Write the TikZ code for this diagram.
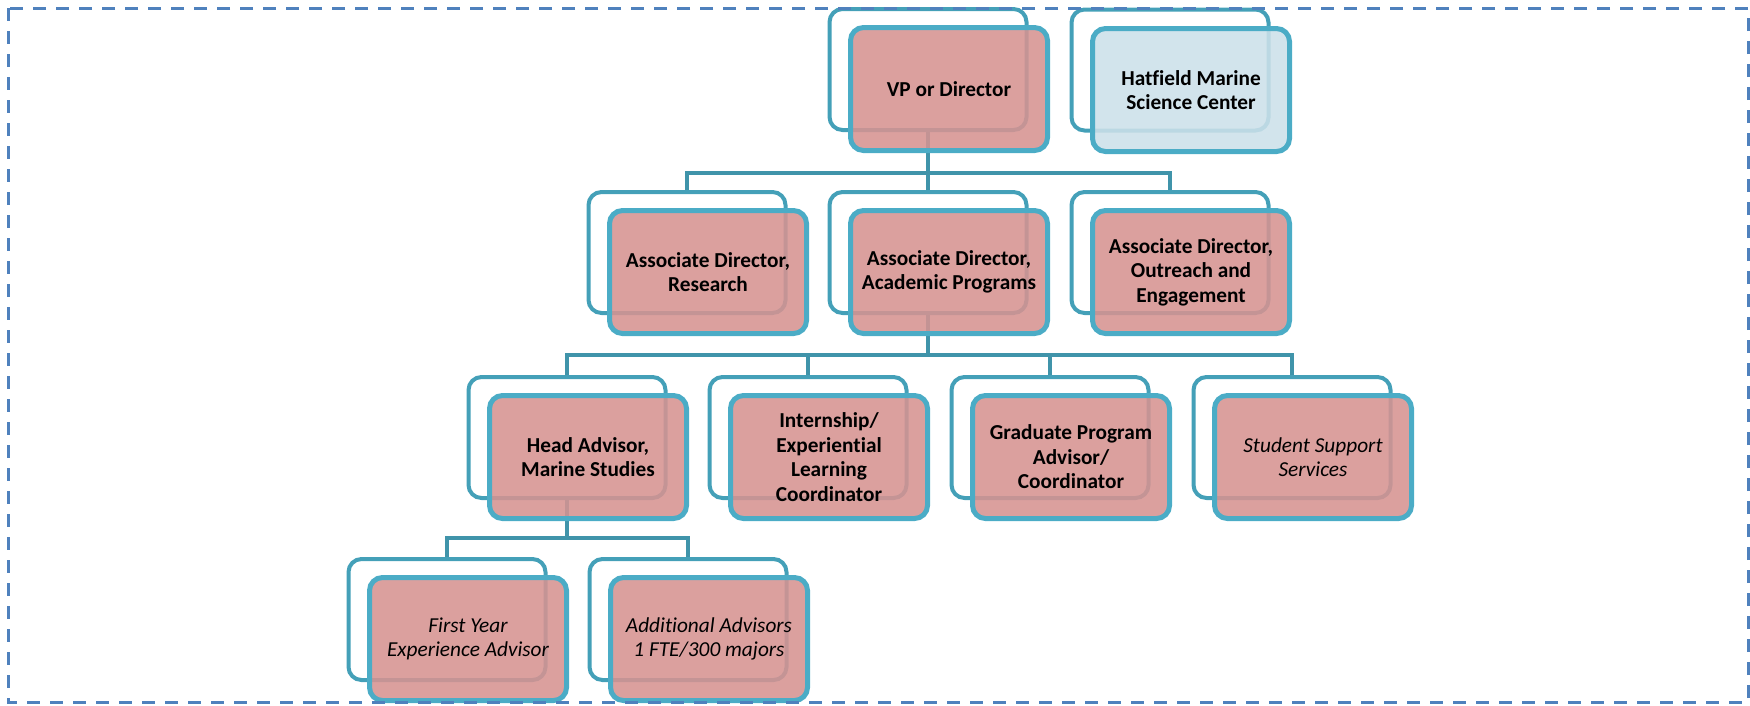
\documentclass[tikz,border=0pt]{standalone}
\usepackage{fontspec}
\setmainfont{Carlito}[Ligatures=NoCommon]
\definecolor{borderc}{RGB}{75,172,198}
\definecolor{framec}{RGB}{68,160,184}
\definecolor{connc}{RGB}{64,148,170}
\definecolor{pinkf}{RGB}{214,147,145}
\definecolor{bluef}{RGB}{204,224,233}
\definecolor{dashc}{RGB}{79,129,189}
\tikzset{
  frontbox/.style={draw=borderc, line width=5pt, rounded corners=13pt, fill=pinkf, fill opacity=0.88, text opacity=1,
    minimum width=197pt, minimum height=123pt, align=center, inner sep=2pt,
    font=\fontsize{21.3pt}{24.5pt}\selectfont\bfseries},
  bluebox/.style={frontbox, fill=bluef},
  itbox/.style={frontbox, font=\fontsize{21.3pt}{24.5pt}\selectfont\itshape},
  framebox/.style={draw=framec, line width=4pt, rounded corners=13pt, minimum width=197pt, minimum height=121pt, inner sep=0pt},
  conn/.style={draw=connc, line width=4pt},
  border/.style={draw=dashc, line width=3pt, dash pattern=on 13pt off 10pt}
}
\begin{document}
\begin{tikzpicture}[x=1pt,y=-1pt]
\useasboundingbox (0,0) rectangle (1750,705);
% frames
\node[framebox] (vpf) at (928,69.5) {};
\node[framebox] (hmf) at (1170,70) {};
\node[framebox] (resf) at (687,252.5) {};
\node[framebox] (acaf) at (928,252.5) {};
\node[framebox] (outf) at (1170,252.5) {};
\node[framebox] (headf) at (567,437.5) {};
\node[framebox] (intf) at (808,437.5) {};
\node[framebox] (gradf) at (1050,437.5) {};
\node[framebox] (sssf) at (1292,437.5) {};
\node[framebox] (fyf) at (447,619.5) {};
\node[framebox] (addf) at (688,619.5) {};
% bars
\coordinate (b2) at (0,173);
\coordinate (b3) at (0,355);
\coordinate (b4) at (0,538);
% connectors
\draw[conn] (vpf.south) -- (vpf.south |- b2);
\draw[conn] (resf.north) |- (outf.north |- b2) -- (outf.north);
\draw[conn] (acaf.north) -- (acaf.north |- b2);
\draw[conn] (acaf.south) -- (acaf.south |- b3);
\draw[conn] (headf.north) |- (sssf.north |- b3) -- (sssf.north);
\draw[conn] (intf.north) -- (intf.north |- b3);
\draw[conn] (gradf.north) -- (gradf.north |- b3);
\draw[conn] (headf.south) -- (headf.south |- b4);
\draw[conn] (fyf.north) |- (addf.north |- b4) -- (addf.north);
% front boxes
\node[frontbox] (vp) at (949,89) {VP or Director};
\node[bluebox] (hm) at (1191,90) {Hatfield Marine\\Science Center};
\node[frontbox] (res) at (708,272) {Associate Director,\\Research};
\node[frontbox] (aca) at (949,272) {Associate Director,\\Academic Programs};
\node[frontbox] (out) at (1191,272) {Associate Director,\\Outreach and\\Engagement};
\node[frontbox] (head) at (588,457) {Head Advisor,\\Marine Studies};
\node[frontbox] (int) at (829,457) {Internship/\\Experiential\\Learning\\Coordinator};
\node[frontbox] (grad) at (1071,457) {Graduate Program\\Advisor/\\Coordinator};
\node[itbox] (sss) at (1313,457) {Student Support\\Services};
\node[itbox] (fy) at (468,639) {First Year\\Experience Advisor};
\node[itbox] (add) at (709,639) {Additional Advisors\\1 FTE/300 majors};
% dashed border
\draw[border] (8,8) rectangle (1748,702);
\end{tikzpicture}
\end{document}
